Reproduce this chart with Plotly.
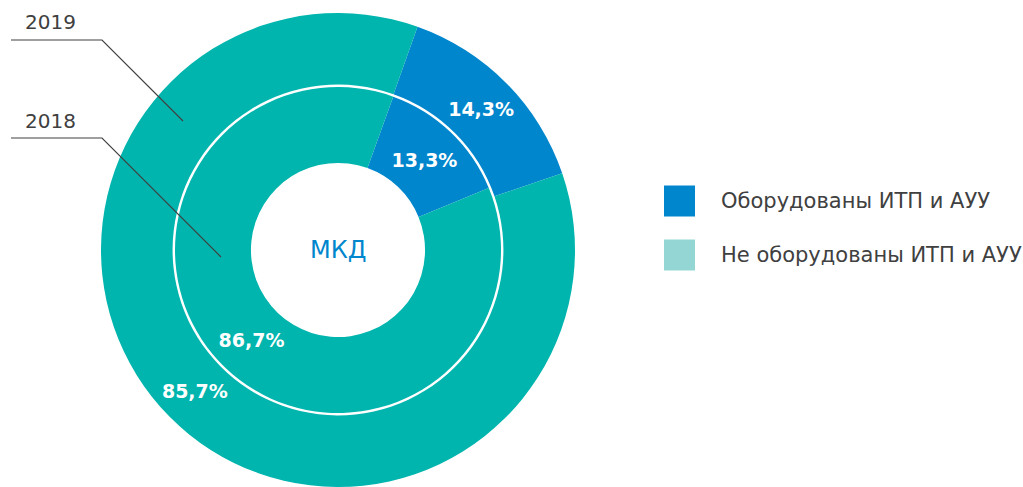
import plotly.graph_objects as go

categories = ["Оборудованы ИТП и АУУ", "Не оборудованы ИТП и АУУ"]
values_2019 = [14.3, 85.7]
values_2018 = [13.3, 86.7]
labels_2019 = ["14,3%", "85,7%"]
labels_2018 = ["13,3%", "86,7%"]
ring_labels = ["2019", "2018"]
center_label = "МКД"

BLUE = "#0086cd"
TEAL = "#00b5ad"
LEGEND_TEAL = "#93d6d3"
TEXT = "#404040"
W, H = 1023, 487
FONT = "DejaVu Sans"


def px(x):
    return x / W


def py(y):
    return 1 - y / H


fig = go.Figure()

# outer ring (2019)
fig.add_trace(go.Pie(
    labels=categories, values=values_2019, text=labels_2019,
    textinfo="text", hoverinfo="label+text",
    sort=False, direction="clockwise", rotation=19.6,
    hole=0.698,
    marker=dict(colors=[BLUE, TEAL], line=dict(width=0)),
    textfont=dict(family=FONT, size=19, color="white", weight="bold"),
    insidetextorientation="horizontal", textposition="inside",
    domain=dict(x=[px(101), px(575)], y=[py(487), py(13)]),
    showlegend=False,
))

# inner ring (2018)
fig.add_trace(go.Pie(
    labels=categories, values=values_2018, text=labels_2018,
    textinfo="text", hoverinfo="label+text",
    sort=False, direction="clockwise", rotation=19.8,
    hole=0.534,
    marker=dict(colors=[BLUE, TEAL], line=dict(width=0)),
    textfont=dict(family=FONT, size=19, color="white", weight="bold"),
    insidetextorientation="horizontal", textposition="inside",
    domain=dict(x=[px(175), px(501)], y=[py(413), py(87)]),
    showlegend=False,
))

shapes = []
annotations = []

# leader lines and ring labels
leaders = [
    ((11, 40), (102, 40), (183, 121), (23, 22)),
    ((11, 138), (102, 138), (221, 257), (23, 121)),
]
for name, (a, b, c, t) in zip(ring_labels, leaders):
    path = f"M {px(a[0])} {py(a[1])} L {px(b[0])} {py(b[1])} L {px(c[0])} {py(c[1])}"
    shapes.append(dict(type="path", path=path, xref="paper", yref="paper",
                       line=dict(color=TEXT, width=1.2)))
    annotations.append(dict(text=name, x=px(t[0]), y=py(t[1]), xref="paper", yref="paper",
                            xanchor="left", yanchor="middle", showarrow=False,
                            font=dict(family=FONT, size=20, color=TEXT)))

# center label
annotations.append(dict(text=center_label, x=px(338), y=py(250), xref="paper", yref="paper",
                        xanchor="center", yanchor="middle", showarrow=False,
                        font=dict(family=FONT, size=24, color=BLUE)))

# manual legend
legend_colors = [BLUE, LEGEND_TEAL]
legend_rows = [201, 255]
for name, col, yc in zip(categories, legend_colors, legend_rows):
    shapes.append(dict(type="rect", xref="paper", yref="paper",
                       x0=px(664), x1=px(695), y0=py(yc - 15.5), y1=py(yc + 15.5),
                       fillcolor=col, line=dict(width=0)))
    annotations.append(dict(text=name, x=px(719), y=py(yc), xref="paper", yref="paper",
                            xanchor="left", yanchor="middle", showarrow=False,
                            font=dict(family=FONT, size=21, color=TEXT)))

fig.update_layout(
    width=W, height=H,
    margin=dict(l=0, r=0, t=0, b=0),
    paper_bgcolor="white", plot_bgcolor="white",
    shapes=shapes, annotations=annotations,
    showlegend=False,
)

fig.write_html("out.html", config={"displayModeBar": False},
               post_script="document.body.style.margin='0';document.body.style.overflow='hidden';")
